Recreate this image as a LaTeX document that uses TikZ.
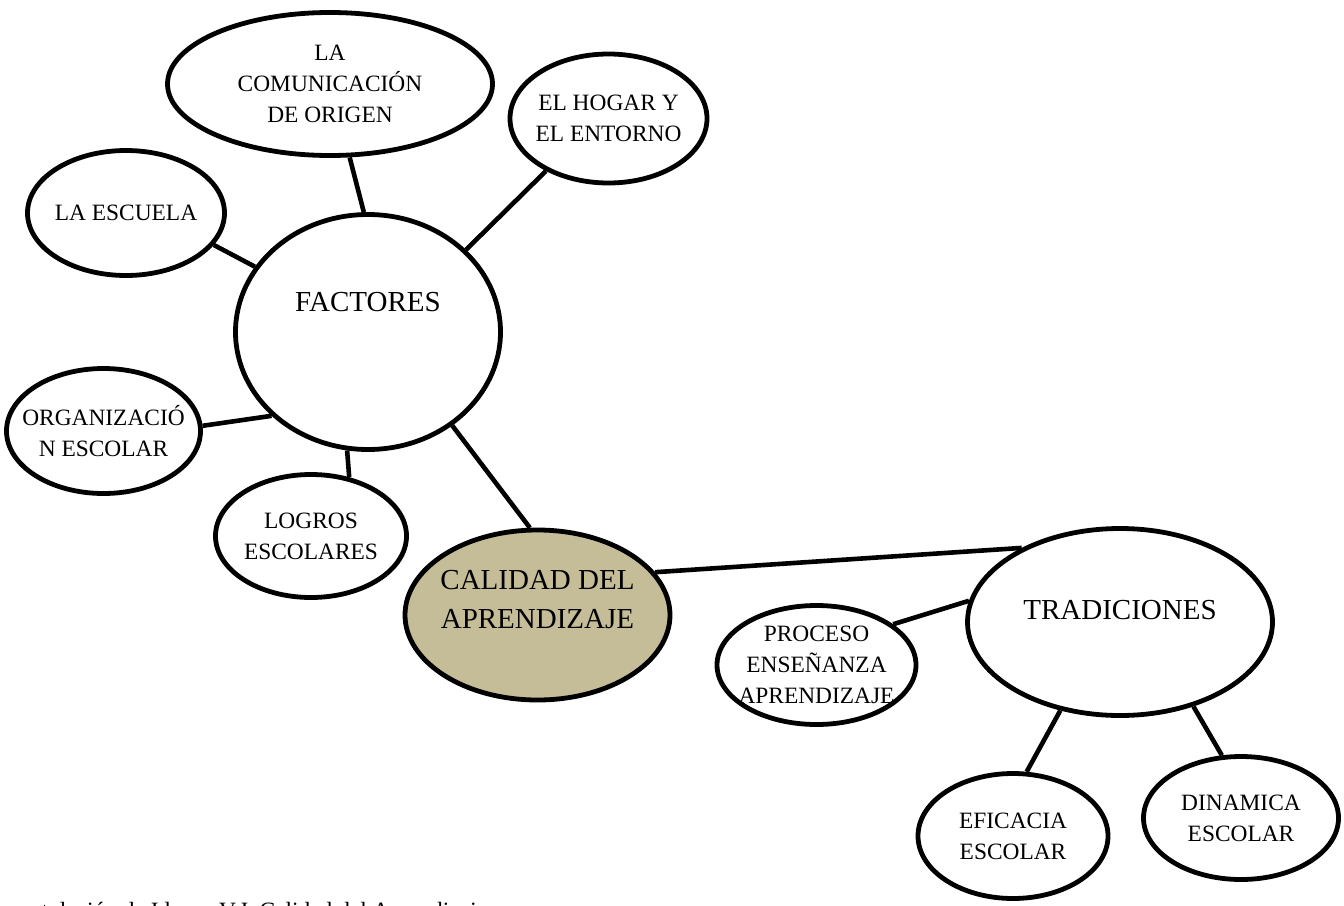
\documentclass[tikz,border=0pt]{standalone}
\usepackage{fontspec}
\setmainfont{Liberation Serif}
\usetikzlibrary{shapes.geometric}
\begin{document}
\begin{tikzpicture}[x=1pt,y=-1pt,
  bub/.style={ellipse,draw=black,line width=4.8pt,fill=white,inner sep=-40pt,align=center,
    font=\fontsize{23.4}{31}\selectfont},
  bigtext/.style={font=\fontsize{29}{39}\selectfont},
  link/.style={draw=black,line width=4.6pt},
  captext/.style={anchor=base west,inner sep=0pt,font=\fontsize{23.4}{28}\selectfont}]
\useasboundingbox (0,0) rectangle (1344,905);
\clip (0,0) rectangle (1344,905);
% nodes
\node[bub,minimum width=325pt,minimum height=143pt] (com) at (330,84) {LA\\COMUNICACIÓN\\DE ORIGEN};
\node[bub,minimum width=197pt,minimum height=129pt] (hogar) at (608.5,118.5) {EL HOGAR Y\\EL ENTORNO};
\node[bub,minimum width=197pt,minimum height=125pt] (escuela) at (126,213) {LA ESCUELA};
\node[bub,bigtext,minimum width=265pt,minimum height=235pt,text height=19.2pt,text depth=60pt] (factores) at (368,332) {FACTORES};
\node[bub,minimum width=194pt,minimum height=125pt] (org) at (103.5,431) {ORGANIZACIÓ\\N ESCOLAR};
\node[bub,minimum width=191pt,minimum height=123pt] (logros) at (311,536) {LOGROS\\ESCOLARES};
\node[bub,bigtext,fill={rgb,255:red,196;green,189;blue,151},minimum width=265pt,minimum height=170pt,text height=58.2pt,text depth=31pt] (calidad) at (537.5,615) {CALIDAD DEL\\APRENDIZAJE};
\node[bub,bigtext,minimum width=305pt,minimum height=187pt,text height=19.2pt,text depth=24pt] (trad) at (1120,622) {TRADICIONES};
\node[bub,minimum width=199pt,minimum height=119pt] (proceso) at (816.5,665) {PROCESO\\ENSEÑANZA\\APRENDIZAJE};
\node[bub,minimum width=190pt,minimum height=125pt] (eficacia) at (1013,836) {EFICACIA\\ESCOLAR};
\node[bub,minimum width=195pt,minimum height=123pt] (dinamica) at (1241,818) {DINAMICA\\ESCOLAR};
% connectors
\draw[link] (com.-75.3) -- (factores.92.4);
\draw[link] (hogar.220.6) -- (factores.40.9);
\draw[link] (escuela.-20.4) -- (factores.150.9);
\draw[link] (org.3.5) -- (factores.221.5);
\draw[link] (logros.57.4) -- (factores.260.1);
\draw[link] (factores.-48.8) -- (calidad.95.8);
\draw[link] (calidad.20) -- (trad.143.5);
\draw[link] (proceso.28.6) -- (trad.172.9);
\draw[link] (trad.236.3) -- (eficacia.78.9);
\draw[link] (trad.-49.9) -- (dinamica.107.3);
% caption (cut by the lower edge, as in the reference)
\node[captext] (caption) at (22,918) {rotulación de Idrogo V.J. Calidad del Aprendizaje};
\end{tikzpicture}
\end{document}
